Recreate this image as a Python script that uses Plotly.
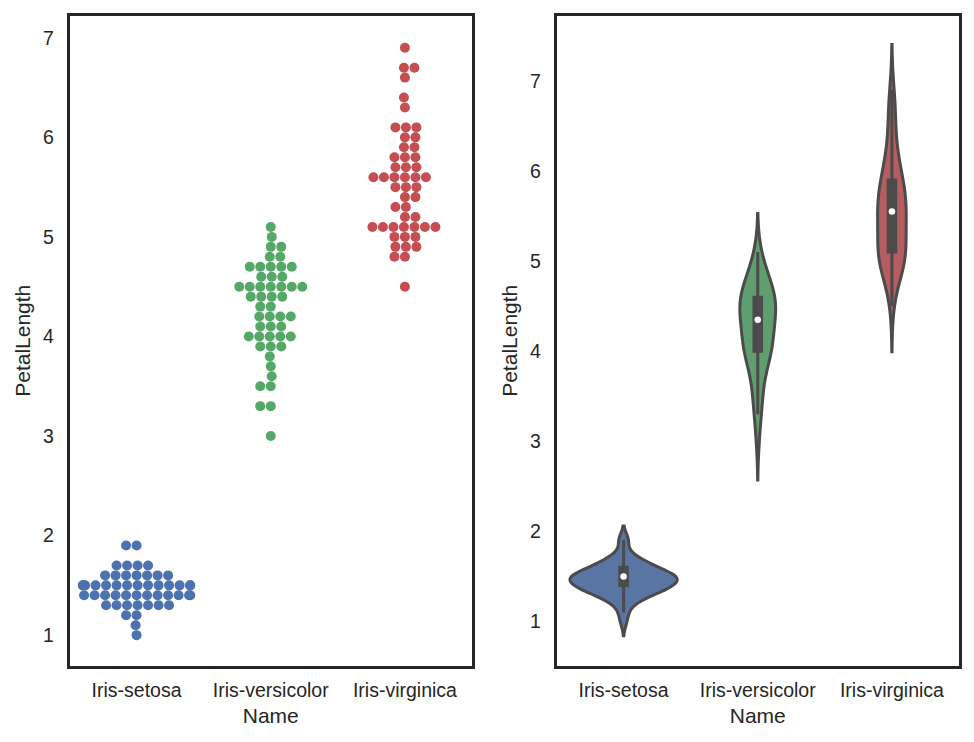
import colorsys
import numpy as np
import plotly.graph_objects as go

# ---------------- data (Iris petal lengths, read per species) ----------------
categories = ["Iris-setosa", "Iris-versicolor", "Iris-virginica"]
setosa = [1.4, 1.4, 1.3, 1.5, 1.4, 1.7, 1.4, 1.5, 1.4, 1.5, 1.5, 1.6, 1.4, 1.1, 1.2,
          1.5, 1.3, 1.4, 1.7, 1.5, 1.7, 1.5, 1.0, 1.7, 1.9, 1.6, 1.6, 1.5, 1.4, 1.6,
          1.6, 1.5, 1.5, 1.4, 1.5, 1.2, 1.3, 1.5, 1.3, 1.5, 1.3, 1.3, 1.3, 1.6, 1.9,
          1.4, 1.6, 1.4, 1.5, 1.4]
versicolor = [4.7, 4.5, 4.9, 4.0, 4.6, 4.5, 4.7, 3.3, 4.6, 3.9, 3.5, 4.2, 4.0, 4.7, 3.6,
              4.4, 4.5, 4.1, 4.5, 3.9, 4.8, 4.0, 4.9, 4.7, 4.3, 4.4, 4.8, 5.0, 4.5, 3.5,
              3.8, 3.7, 3.9, 5.1, 4.5, 4.5, 4.7, 4.4, 4.1, 4.0, 4.4, 4.6, 4.0, 3.3, 4.2,
              4.2, 4.2, 4.3, 3.0, 4.1]
virginica = [6.0, 5.1, 5.9, 5.6, 5.8, 6.6, 4.5, 6.3, 5.8, 6.1, 5.1, 5.3, 5.5, 5.0, 5.1,
             5.3, 5.5, 6.7, 6.9, 5.0, 5.7, 4.9, 6.7, 4.9, 5.7, 6.0, 4.8, 4.9, 5.6, 5.8,
             6.1, 6.4, 5.6, 5.1, 5.6, 6.1, 5.6, 5.5, 4.8, 5.4, 5.6, 5.1, 5.1, 5.9, 5.7,
             5.2, 5.0, 5.2, 5.4, 5.1]
series = [setosa, versicolor, virginica]
y_ticks = [1, 2, 3, 4, 5, 6, 7]
x_label = "Name"
y_label = "PetalLength"

# ---------------- style ----------------
swarm_colors = ["#4c72b0", "#55a868", "#c44e52"]


def desaturate(hex_color, prop):
    h = hex_color.lstrip("#")
    r, g, b = (int(h[i:i + 2], 16) / 255 for i in (0, 2, 4))
    hh, ll, ss = colorsys.rgb_to_hls(r, g, b)
    r, g, b = colorsys.hls_to_rgb(hh, ll, ss * prop)
    return "#%02x%02x%02x" % (round(r * 255), round(g * 255), round(b * 255))


violin_colors = [desaturate(c, 0.75) for c in swarm_colors]
outline = "#4b4b4b"
frame = "#262626"
text_color = "#262626"
font_family = "Liberation Sans, Arial, sans-serif"

W, H = 974, 742
left_x = (69.5, 472.0)
right_x = (556.5, 959.0)
top_px, bottom_px = 15.5, 666.0
left_yrange = [0.69, 7.224]
right_yrange = [0.505, 7.727]
xrange_ = [-0.5, 2.5]

ppu_x = (left_x[1] - left_x[0]) / (xrange_[1] - xrange_[0])
ppu_y = (bottom_px - top_px) / (left_yrange[1] - left_yrange[0])
radius = 5.0          # marker radius in px
swarm_width = 0.8
violin_width = 0.8
box_frac = 0.07


# ---------------- seaborn-like beeswarm (in pixel space) ----------------
def could_overlap(xyr_i, swarm):
    _, y_i, r_i = xyr_i
    neighbors = []
    for xyr_j in reversed(swarm):
        _, y_j, r_j = xyr_j
        if (y_i - y_j) < (r_i + r_j):
            neighbors.append(xyr_j)
        else:
            break
    return np.array(neighbors)


def position_candidates(xyr_i, neighbors):
    candidates = [xyr_i]
    x_i, y_i, r_i = xyr_i
    left_first = True
    for x_j, y_j, r_j in neighbors:
        dy = y_i - y_j
        dx = np.sqrt(max((r_i + r_j) ** 2 - dy ** 2, 0)) * 1.05
        cl, cr = (x_j - dx, y_i, r_i), (x_j + dx, y_i, r_i)
        candidates.extend([cl, cr] if left_first else [cr, cl])
        left_first = not left_first
    return np.array(candidates)


def first_non_overlapping(candidates, neighbors):
    if len(neighbors) == 0:
        return candidates[0]
    nx, ny, nr = neighbors[:, 0], neighbors[:, 1], neighbors[:, 2]
    for xyr_i in candidates:
        x_i, y_i, r_i = xyr_i
        d2 = (nx - x_i) ** 2 + (ny - y_i) ** 2
        if np.all(d2 >= (nr + r_i) ** 2):
            return xyr_i
    return candidates[-1]


def swarm_offsets(vals):
    y = np.asarray(vals, dtype=float) * ppu_y
    xyr = np.c_[np.zeros_like(y), y, np.full_like(y, radius)]
    sorter = np.argsort(xyr[:, 1])
    orig = xyr[sorter]
    midline = orig[0, 0]
    swarm = np.atleast_2d(orig[0])
    for xyr_i in orig[1:]:
        nb = could_overlap(xyr_i, swarm)
        cand = position_candidates(xyr_i, nb)
        cand = cand[np.argsort(np.abs(cand[:, 0] - midline))]
        swarm = np.vstack([swarm, first_non_overlapping(cand, nb)])
    out = np.empty_like(orig)
    out[sorter] = swarm
    off = out[:, 0] / ppu_x
    half = swarm_width / 2
    return np.clip(off, -half, half)


def scott_bw(arr):
    return arr.std(ddof=1) * len(arr) ** (-1 / 5)


def kde_peak(arr, bw):
    grid = np.linspace(arr.min() - 2 * bw, arr.max() + 2 * bw, 800)
    dens = np.exp(-0.5 * ((grid[:, None] - arr[None, :]) / bw) ** 2).sum(1)
    return (dens / (len(arr) * bw * np.sqrt(2 * np.pi))).max()


fig = go.Figure()

# ---------------- left: swarm ----------------
for i, (vals, col) in enumerate(zip(series, swarm_colors)):
    xs = i + swarm_offsets(vals)
    fig.add_trace(go.Scatter(
        x=xs, y=vals, mode="markers", xaxis="x", yaxis="y",
        marker=dict(color=col, size=2 * radius, line=dict(width=0)),
        name=categories[i], showlegend=False))

# ---------------- right: violins (area-scaled like seaborn) ----------------
arrays = [np.asarray(v, dtype=float) for v in series]
bws = [scott_bw(a) for a in arrays]
peaks = [kde_peak(a, b) for a, b in zip(arrays, bws)]
peak_max = max(peaks)

for i, (arr, col) in enumerate(zip(arrays, violin_colors)):
    w_i = violin_width * peaks[i] / peak_max
    fig.add_trace(go.Violin(
        x0=i, y=series[i], xaxis="x2", yaxis="y2", name=categories[i],
        width=w_i, scalemode="width", spanmode="soft",
        bandwidth=bws[i], fillcolor=col, opacity=1,
        line=dict(color=outline, width=3),
        box=dict(visible=True, width=box_frac * violin_width / w_i,
                 fillcolor=outline, line=dict(color=outline, width=3)),
        meanline=dict(visible=False), points=False, showlegend=False))
    fig.add_trace(go.Scatter(
        x=[i], y=[float(np.median(arr))], mode="markers", xaxis="x2", yaxis="y2",
        marker=dict(color="white", size=6.5, line=dict(width=0)),
        showlegend=False, hoverinfo="skip"))

axis_common = dict(
    showline=True, mirror=True, linecolor=frame, linewidth=2.5,
    showgrid=False, zeroline=False, ticks="", automargin=False,
    tickfont=dict(family=font_family, size=19.5, color=text_color),
)
xdom1 = [left_x[0] / W, left_x[1] / W]
xdom2 = [right_x[0] / W, right_x[1] / W]
ydom = [1 - bottom_px / H, 1 - top_px / H]
title_font = dict(size=21, family=font_family, color=text_color)

xa = dict(range=xrange_, type="linear", tickvals=[0, 1, 2], ticktext=categories,
          ticklabelstandoff=5, title=dict(text=x_label, font=title_font, standoff=8.5),
          **axis_common)
ya = dict(tickvals=y_ticks, ticklabelstandoff=9,
          title=dict(text=y_label, font=title_font, standoff=7), **axis_common)

fig.update_layout(
    width=W, height=H, margin=dict(l=0, r=0, t=0, b=0, autoexpand=False),
    paper_bgcolor="white", plot_bgcolor="white", showlegend=False,
    violinmode="overlay",
    font=dict(family=font_family, color=text_color),
    xaxis=dict(domain=xdom1, anchor="y", **xa),
    yaxis=dict(domain=ydom, range=left_yrange, anchor="x", **ya),
    xaxis2=dict(domain=xdom2, anchor="y2", **xa),
    yaxis2=dict(domain=ydom, range=right_yrange, anchor="x2", **ya),
)

fig.write_html("out.html", config={"displayModeBar": False},
               post_script="document.body.style.margin='0px';")
